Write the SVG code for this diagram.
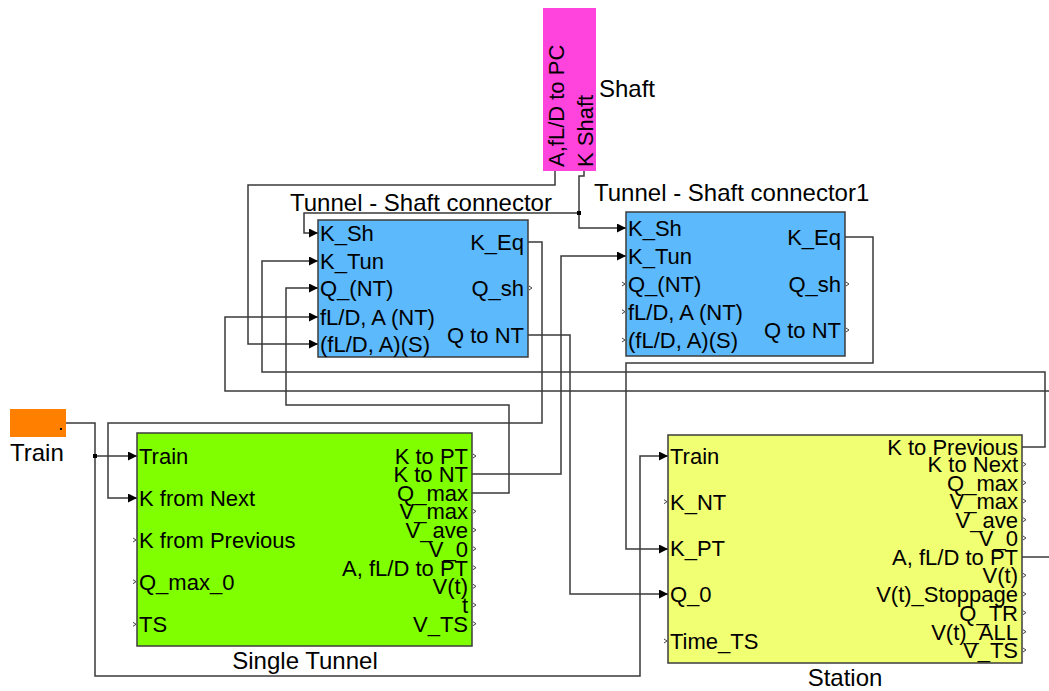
<svg xmlns="http://www.w3.org/2000/svg" width="1049" height="691" viewBox="0 0 1049 691">
<defs>
<style>
text{font-family:"Liberation Sans",Arial,sans-serif;fill:#000}
.p{font-size:22px}
.n{font-size:24px}
.r{text-anchor:end}
.m{text-anchor:middle}
.blk{stroke:#3c3c3c;stroke-width:1.5}
.w{fill:none;stroke:#3a3a3a;stroke-width:1.5}
.a{marker-end:url(#ah)}
.u{fill:none;stroke:#444;stroke-width:1}
</style>
<marker id="ah" markerUnits="userSpaceOnUse" markerWidth="10" markerHeight="9" refX="9" refY="4.5" orient="auto">
<path d="M0,0 L9,4.5 L0,9 z" fill="#000"/>
</marker>
</defs>
<rect width="1049" height="691" fill="#fff"/>

<g id="connectors">
<path class="w a" d="M555,171 V185 H248 V344 H318"/>
<path class="w a" d="M584,171 V176 H579 V213 H304 V233 H318"/>
<path class="w a" d="M579,213 V228 H626"/>
<rect x="577" y="211" width="4" height="4" fill="#000"/>
<path class="w a" d="M528,242 H542 V423 H108 V498 H137"/>
<path class="w a" d="M472,493 H509 V405 H286 V288 H318"/>
<path class="w a" d="M472,474 H561 V256 H626"/>
<path class="w a" d="M1022,447 H1045 V372 H262 V261 H318"/>
<path class="w a" d="M1049,391 H225 V317 H318"/>
<path class="w" d="M1022,557 H1049"/>
<path class="w a" d="M528,335 H570 V594 H668"/>
<path class="w a" d="M845,237 H873 V363 H626 V549 H668"/>
<path class="w a" d="M66,423 H95 V676 H640 V456 H668"/>
<path class="w a" d="M95,456 H137"/>
<rect x="93" y="454" width="4" height="4" fill="#000"/>
</g>

<g id="shaft">
<rect x="543" y="8" width="53" height="163" fill="#FF44DD"/>
<text class="p" transform="translate(563.5,167) rotate(-90)">A,fL/D to PC</text>
<text class="p" transform="translate(592.5,167) rotate(-90)">K Shaft</text>
<text class="n" x="599" y="97">Shaft</text>
</g>

<g id="train">
<rect x="10" y="409" width="56" height="28" fill="#FF8000"/>
<rect x="60" y="428" width="2" height="2" fill="#000"/>
<text class="n" x="10" y="461">Train</text>
</g>

<g id="ts-connector">
<text class="n" x="290" y="211">Tunnel - Shaft connector</text>
<rect class="blk" x="318" y="220" width="210" height="137" fill="#5CB9FC"/>
<text class="p" x="320" y="241">K_Sh</text>
<text class="p" x="320" y="269">K_Tun</text>
<text class="p" x="320" y="296">Q_(NT)</text>
<text class="p" x="320" y="325">fL/D, A (NT)</text>
<text class="p" x="320" y="352">(fL/D, A)(S)</text>
<text class="p r" x="524" y="250">K_Eq</text>
<text class="p r" x="524" y="296">Q_sh</text>
<text class="p r" x="524" y="343">Q to NT</text>
<path class="u" d="M529,286 L532,288 L529,290"/>
</g>

<g id="ts-connector1">
<text class="n" x="594" y="201">Tunnel - Shaft connector1</text>
<rect class="blk" x="626" y="212" width="219" height="144" fill="#5CB9FC"/>
<text class="p" x="628" y="236">K_Sh</text>
<text class="p" x="628" y="264">K_Tun</text>
<text class="p" x="628" y="292">Q_(NT)</text>
<text class="p" x="628" y="320">fL/D, A (NT)</text>
<text class="p" x="628" y="348">(fL/D, A)(S)</text>
<text class="p r" x="841" y="245">K_Eq</text>
<text class="p r" x="841" y="292">Q_sh</text>
<text class="p r" x="841" y="338">Q to NT</text>
<path class="u" d="M622,282 L625,284 L622,286 M622,309.7 L625,311.7 L622,313.7 M622,338 L625,340 L622,342"/>
<path class="u" d="M846,282 L849,284 L846,286 M846,328 L849,330 L846,332"/>
</g>

<g id="single-tunnel">
<rect class="blk" x="137" y="433" width="335" height="213" fill="#80FF00"/>
<text class="p" x="139" y="464">Train</text>
<text class="p" x="139" y="506">K from Next</text>
<text class="p" x="139" y="548">K from Previous</text>
<text class="p" x="139" y="590">Q_max_0</text>
<text class="p" x="139" y="632">TS</text>
<text class="p r" x="468" y="464">K to PT</text>
<text class="p r" x="468" y="482.3">K to NT</text>
<text class="p r" x="468" y="500.7">Q_max</text>
<text class="p r" x="468" y="519.3">V_max</text>
<text class="p r" x="468" y="538">V_ave</text>
<text class="p r" x="468" y="556.7">V_0</text>
<text class="p r" x="468" y="575.7">A, fL/D to PT</text>
<text class="p r" x="468" y="594.3">V(t)</text>
<text class="p r" x="468" y="613">t</text>
<text class="p r" x="468" y="631.7">V_TS</text>
<path class="u" d="M133,538 L136,540 L133,542 M133,579.7 L136,581.7 L133,583.7 M133,622.3 L136,624.3 L133,626.3"/>
<path class="u" d="M473,454 L476,456 L473,458 M473,509.3 L476,511.3 L473,513.3 M473,528 L476,530 L473,532 M473,546.7 L476,548.7 L473,550.7 M473,565.7 L476,567.7 L473,569.7 M473,584.3 L476,586.3 L473,588.3 M473,603 L476,605 L473,607 M473,621.7 L476,623.7 L473,625.7"/>
<text class="n m" x="305" y="669">Single Tunnel</text>
</g>

<g id="station">
<rect class="blk" x="668" y="435" width="354" height="228" fill="#F1FF73"/>
<text class="p" x="670" y="464">Train</text>
<text class="p" x="670" y="509.7">K_NT</text>
<text class="p" x="670" y="556.3">K_PT</text>
<text class="p" x="670" y="602">Q_0</text>
<text class="p" x="670" y="649">Time_TS</text>
<text class="p r" x="1018" y="454.7">K to Previous</text>
<text class="p r" x="1018" y="472.3">K to Next</text>
<text class="p r" x="1018" y="490.7">Q_max</text>
<text class="p r" x="1018" y="509">V_max</text>
<text class="p r" x="1018" y="527.7">V_ave</text>
<text class="p r" x="1018" y="546">V_0</text>
<text class="p r" x="1018" y="564.7">A, fL/D to PT</text>
<text class="p r" x="1018" y="583.3">V(t)</text>
<text class="p r" x="1018" y="602">V(t)_Stoppage</text>
<text class="p r" x="1018" y="620.7">Q_TR</text>
<text class="p r" x="1018" y="639.7">V(t)_ALL</text>
<text class="p r" x="1018" y="658">V_TS</text>
<path class="u" d="M664,499.7 L667,501.7 L664,503.7 M664,639 L667,641 L664,643"/>
<path class="u" d="M1023,462.3 L1026,464.3 L1023,466.3 M1023,480.7 L1026,482.7 L1023,484.7 M1023,499 L1026,501 L1023,503 M1023,517.7 L1026,519.7 L1023,521.7 M1023,536 L1026,538 L1023,540 M1023,573.3 L1026,575.3 L1023,577.3 M1023,592 L1026,594 L1023,596 M1023,610.7 L1026,612.7 L1023,614.7 M1023,629.7 L1026,631.7 L1023,633.7 M1023,648 L1026,650 L1023,652"/>
<text class="n m" x="845" y="686">Station</text>
</g>
</svg>
